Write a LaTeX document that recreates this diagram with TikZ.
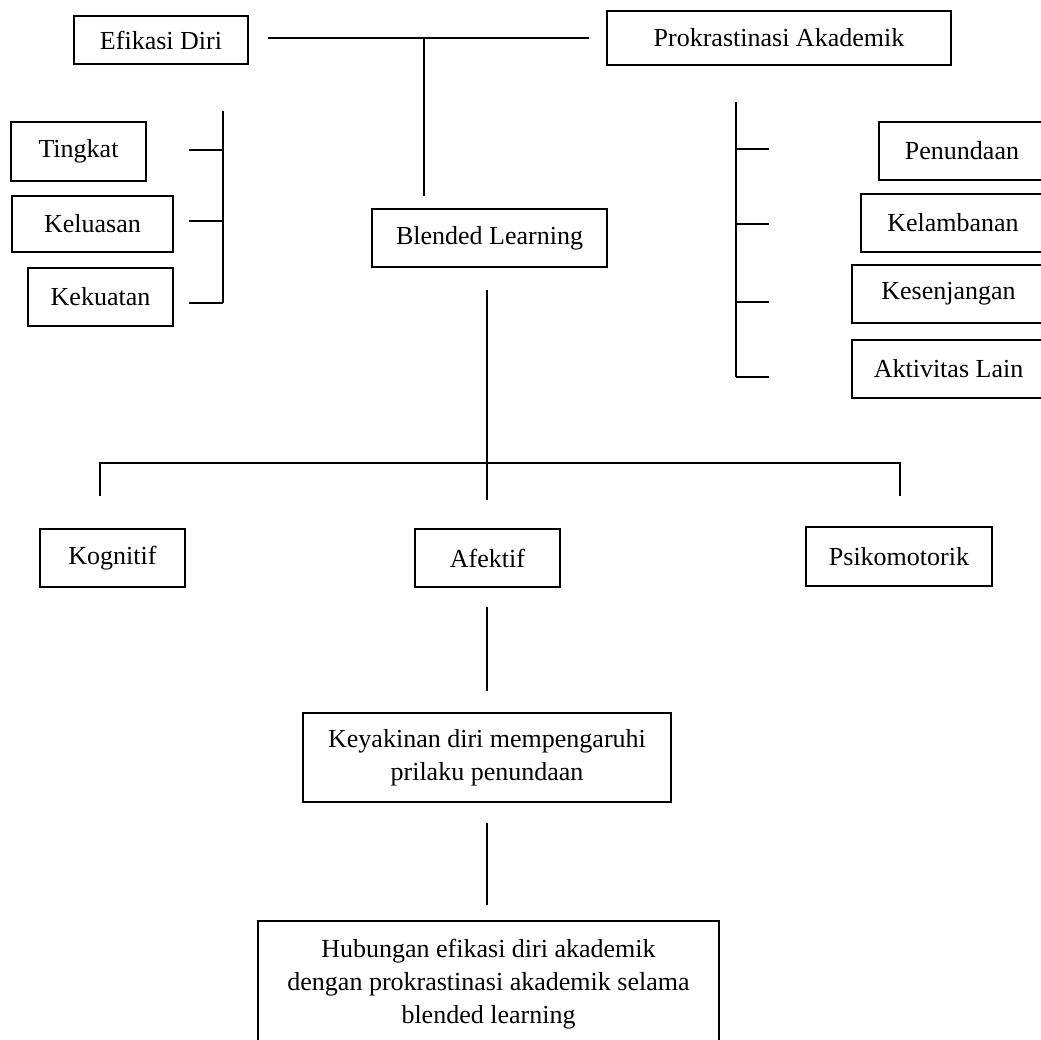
\documentclass[tikz,border=0pt]{standalone}
\usepackage{fontspec}
\setmainfont{Liberation Serif}
\begin{document}
\begin{tikzpicture}[x=1pt,y=-1pt,
  box/.style={draw,line width=1.5pt,inner sep=0pt,align=center,font=\fontsize{26}{33}\selectfont},
  conn/.style={line width=1.5pt}]
\useasboundingbox (0,0) rectangle (1041,1039);
\clip (0,0) rectangle (1041,1039);
% top level
\node[box,minimum width=174pt,minimum height=48pt] (efikasi) at (161,40) {Efikasi Diri};
\node[box,minimum width=344pt,minimum height=54pt] (prok) at (779,38) {Prokrastinasi Akademik};
\node[box,minimum width=235pt,minimum height=58pt] (blended) at (489.5,238) {Blended Learning};
% left group
\node[box,minimum width=135pt,minimum height=59pt] (tingkat) at (78.5,151.5) {Tingkat};
\node[box,minimum width=161pt,minimum height=56pt] (keluasan) at (92.5,224) {Keluasan};
\node[box,minimum width=145pt,minimum height=58pt] (kekuatan) at (100.5,297) {Kekuatan};
% right group
\node[box,minimum width=166pt,minimum height=58pt] (penundaan) at (962,151) {Penundaan};
\node[box,minimum width=184pt,minimum height=58pt] (kelambanan) at (953,223) {Kelambanan};
\node[box,minimum width=193pt,minimum height=58pt] (kesenjangan) at (948.5,294) {Kesenjangan};
\node[box,minimum width=193pt,minimum height=58pt] (aktivitas) at (948.5,369) {Aktivitas Lain};
% domains
\node[box,minimum width=145pt,minimum height=58pt] (kognitif) at (112.5,558) {Kognitif};
\node[box,minimum width=145pt,minimum height=58pt] (afektif) at (487.5,558) {Afektif};
\node[box,minimum width=186pt,minimum height=59pt] (psiko) at (899,556.5) {Psikomotorik};
% bottom
\node[box,minimum width=368pt,minimum height=89pt] (keyakinan) at (487,757.5) {Keyakinan diri mempengaruhi\\prilaku penundaan};
\node[box,minimum width=461pt,minimum height=126pt] (hubungan) at (488.5,984) {Hubungan efikasi diri akademik\\dengan prokrastinasi akademik selama\\blended learning};
% coordinates
\coordinate (tA) at (268,38);
\coordinate (tB) at (589,38);
\coordinate (tC) at (424,38);
\coordinate (tD) at (424,196);
\coordinate (lTop) at (223,111);
\coordinate (lBot) at (223,303);
\coordinate (l1) at (189,150);
\coordinate (l1b) at (223,150);
\coordinate (l2) at (189,221);
\coordinate (l2b) at (223,221);
\coordinate (l3) at (189,303);
\coordinate (rTop) at (736,102);
\coordinate (rBot) at (736,377);
\coordinate (r1a) at (736,149);
\coordinate (r1) at (769,149);
\coordinate (r2a) at (736,224);
\coordinate (r2) at (769,224);
\coordinate (r3a) at (736,302);
\coordinate (r3) at (769,302);
\coordinate (r4) at (769,377);
\coordinate (mA) at (487,290);
\coordinate (mB) at (487,500);
\coordinate (hL) at (100,463);
\coordinate (hR) at (900,463);
\coordinate (hLd) at (100,496);
\coordinate (hRd) at (900,496);
\coordinate (aA) at (487,607);
\coordinate (aB) at (487,691);
\coordinate (kA) at (487,823);
\coordinate (kB) at (487,905);
% connectors
\draw[conn] (tA) -- (tB);
\draw[conn] (tC) -- (tD);
\draw[conn] (lTop) -- (lBot);
\draw[conn] (l1) -- (l1b);
\draw[conn] (l2) -- (l2b);
\draw[conn] (l3) -- (lBot);
\draw[conn] (rTop) -- (rBot);
\draw[conn] (r1a) -- (r1);
\draw[conn] (r2a) -- (r2);
\draw[conn] (r3a) -- (r3);
\draw[conn] (rBot) -- (r4);
\draw[conn] (mA) -- (mB);
\draw[conn] (hLd) -- (hL) -- (hR) -- (hRd);
\draw[conn] (aA) -- (aB);
\draw[conn] (kA) -- (kB);
\end{tikzpicture}
\end{document}
